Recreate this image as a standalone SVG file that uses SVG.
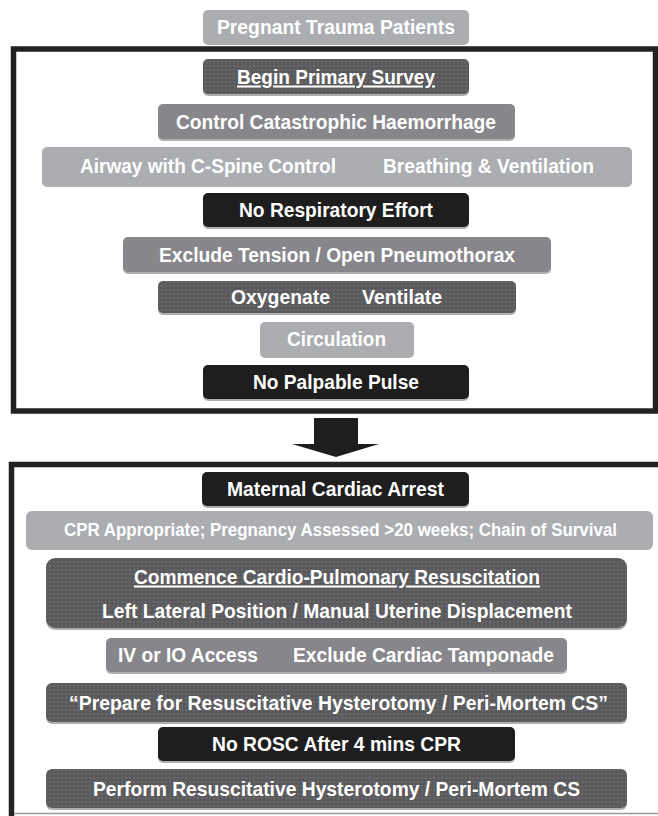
<svg xmlns="http://www.w3.org/2000/svg" width="658" height="816" viewBox="0 0 658 816">
<style>
.t{font-family:"Liberation Sans","Arial",sans-serif;font-weight:bold;font-size:20.5px;fill:#ffffff;text-anchor:middle}
.s{font-size:17.5px}
.light{fill:#acadb1}
.mid{fill:#87878b}
.blk{fill:#1e1e1e}
.dot{fill:url(#dots)}
.sh{fill:#6e6e70;opacity:0.55}
.frame{fill:none;stroke:#222224;stroke-width:5.5}
</style>
<defs>
<pattern id="dots" width="4" height="4" patternUnits="userSpaceOnUse">
<rect width="4" height="4" fill="#5a5a5c"/>
<rect x="1.5" y="1.5" width="1" height="1" fill="#959597"/>
</pattern>
</defs>
<rect width="658" height="816" fill="#ffffff"/>
<g id="frames">
<rect class="frame" x="13.5" y="49" width="642" height="362"/>
<rect class="frame" x="11.5" y="464.5" width="660" height="360"/>
<line x1="14" y1="813.5" x2="658" y2="813.5" stroke="#9a9a9c" stroke-width="1.5"/>
</g>
<g id="connectors">
<path d="M314,418 H358 V444 H379 L336,457 L292,444 H314 Z" fill="#1e1e1e"/>
</g>
<g id="n1"><rect class="sh" x="203" y="12" width="266" height="33" rx="5"/><rect class="light" x="203" y="10" width="266" height="33" rx="5"/><text class="t" x="336" y="33.5" textLength="238" lengthAdjust="spacingAndGlyphs">Pregnant Trauma Patients</text></g>
<g id="n2"><rect class="sh" x="203" y="61" width="266" height="35" rx="5"/><rect class="dot" x="203" y="59" width="266" height="35" rx="5"/><text class="t" x="336" y="83.5" textLength="198" lengthAdjust="spacingAndGlyphs" text-decoration="underline">Begin Primary Survey</text></g>
<g id="n3"><rect class="sh" x="158" y="106" width="357" height="35" rx="5"/><rect class="mid" x="158" y="104" width="357" height="35" rx="5"/><text class="t" x="336" y="128.5" textLength="320" lengthAdjust="spacingAndGlyphs">Control Catastrophic Haemorrhage</text></g>
<g id="n4"><rect class="sh" x="42" y="149" width="590" height="38" rx="5"/><rect class="light" x="42" y="147" width="590" height="38" rx="5"/><text class="t" x="208" y="173" textLength="256" lengthAdjust="spacingAndGlyphs">Airway with C-Spine Control</text><text class="t" x="488.5" y="173" textLength="211" lengthAdjust="spacingAndGlyphs">Breathing &amp; Ventilation</text></g>
<g id="n5"><rect class="sh" x="203" y="195" width="266" height="34" rx="5"/><rect class="blk" x="203" y="193" width="266" height="34" rx="5"/><text class="t" x="336" y="217" textLength="194" lengthAdjust="spacingAndGlyphs">No Respiratory Effort</text></g>
<g id="n6"><rect class="sh" x="123" y="239" width="428" height="35" rx="5"/><rect class="mid" x="123" y="237" width="428" height="35" rx="5"/><text class="t" x="337" y="261.5" textLength="356" lengthAdjust="spacingAndGlyphs">Exclude Tension / Open Pneumothorax</text></g>
<g id="n7"><rect class="sh" x="158" y="283" width="358" height="32" rx="5"/><rect class="dot" x="158" y="281" width="358" height="32" rx="5"/><text class="t" x="280.5" y="304" textLength="99" lengthAdjust="spacingAndGlyphs">Oxygenate</text><text class="t" x="402" y="304" textLength="80" lengthAdjust="spacingAndGlyphs">Ventilate</text></g>
<g id="n8"><rect class="sh" x="260" y="324" width="154" height="34" rx="5"/><rect class="light" x="260" y="322" width="154" height="34" rx="5"/><text class="t" x="336.5" y="346" textLength="99" lengthAdjust="spacingAndGlyphs">Circulation</text></g>
<g id="n9"><rect class="sh" x="203" y="367" width="266" height="34" rx="5"/><rect class="blk" x="203" y="365" width="266" height="34" rx="5"/><text class="t" x="336" y="389" textLength="166" lengthAdjust="spacingAndGlyphs">No Palpable Pulse</text></g>
<g id="n10"><rect class="sh" x="202" y="474" width="267" height="34" rx="5"/><rect class="blk" x="202" y="472" width="267" height="34" rx="5"/><text class="t" x="335.5" y="496" textLength="217" lengthAdjust="spacingAndGlyphs">Maternal Cardiac Arrest</text></g>
<g id="n11"><rect class="sh" x="26" y="513" width="627" height="37" rx="6"/><rect class="light" x="26" y="511" width="627" height="37" rx="6"/><text class="t s" x="340.5" y="535.5" textLength="553" lengthAdjust="spacingAndGlyphs">CPR Appropriate; Pregnancy Assessed &gt;20 weeks; Chain of Survival</text></g>
<g id="n12"><rect class="sh" x="46" y="560" width="581" height="70" rx="9"/><rect class="dot" x="46" y="558" width="581" height="70" rx="9"/><text class="t" x="337" y="583.5" textLength="406" lengthAdjust="spacingAndGlyphs" text-decoration="underline">Commence Cardio-Pulmonary Resuscitation</text><text class="t" x="337" y="617.5" textLength="470" lengthAdjust="spacingAndGlyphs">Left Lateral Position / Manual Uterine Displacement</text></g>
<g id="n13"><rect class="sh" x="106" y="640" width="461" height="34" rx="5"/><rect class="mid" x="106" y="638" width="461" height="34" rx="5"/><text class="t" x="188" y="662" textLength="140" lengthAdjust="spacingAndGlyphs">IV or IO Access</text><text class="t" x="423.5" y="662" textLength="261" lengthAdjust="spacingAndGlyphs">Exclude Cardiac Tamponade</text></g>
<g id="n14"><rect class="sh" x="46" y="685" width="581" height="39" rx="6"/><rect class="dot" x="46" y="683" width="581" height="39" rx="6"/><text class="t" x="338.5" y="709.5" textLength="539" lengthAdjust="spacingAndGlyphs">“Prepare for Resuscitative Hysterotomy / Peri-Mortem CS”</text></g>
<g id="n15"><rect class="sh" x="158" y="729" width="357" height="34" rx="5"/><rect class="blk" x="158" y="727" width="357" height="34" rx="5"/><text class="t" x="336.5" y="751" textLength="249" lengthAdjust="spacingAndGlyphs">No ROSC After 4 mins CPR</text></g>
<g id="n16"><rect class="sh" x="46" y="771" width="581" height="39" rx="6"/><rect class="dot" x="46" y="769" width="581" height="39" rx="6"/><text class="t" x="336.5" y="795.5" textLength="487" lengthAdjust="spacingAndGlyphs">Perform Resuscitative Hysterotomy / Peri-Mortem CS</text></g>
</svg>
